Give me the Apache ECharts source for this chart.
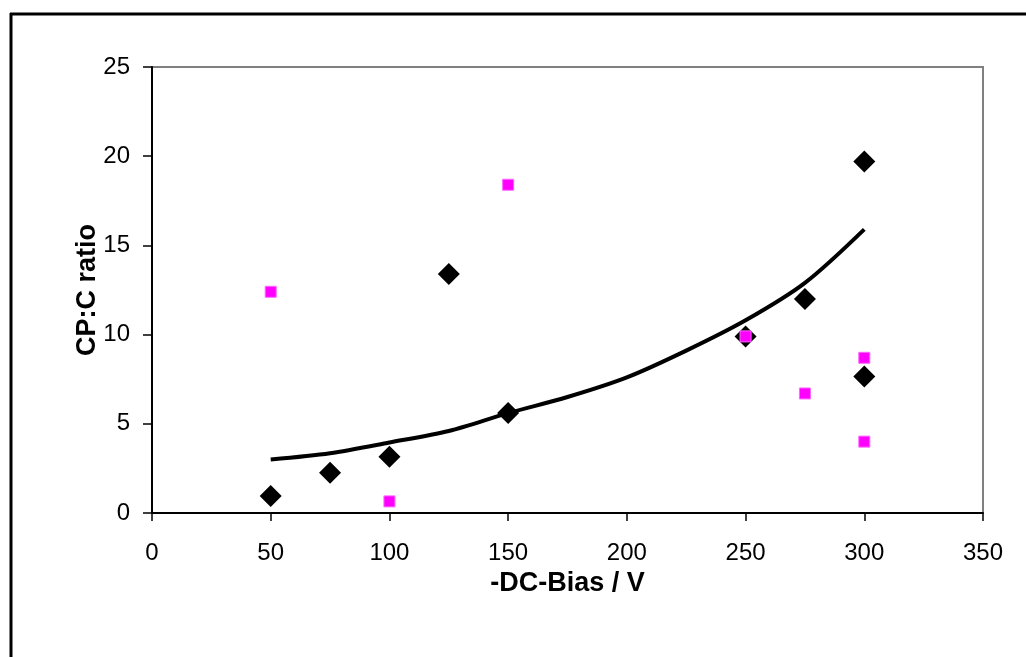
<!DOCTYPE html>
<html>
<head>
<meta charset="utf-8">
<script src="https://cdn.jsdelivr.net/npm/echarts@6/dist/echarts.min.js"></script>
<style>
html,body{margin:0;padding:0;background:#fff;}
#chart{width:1026px;height:657px;}
</style>
</head>
<body>
<div id="chart"></div>
<script>
// Black diamonds: [-DC-Bias, CP:C ratio]
var diamondX = [50, 75, 100, 125, 150, 250, 275, 300, 300];
var diamondY = [0.95, 2.25, 3.15, 13.4, 5.6, 9.9, 12.0, 19.7, 7.65];
// Magenta squares
var squareX = [50, 100, 150, 250, 275, 300, 300];
var squareY = [12.4, 0.65, 18.4, 9.9, 6.7, 8.7, 4.0];
// Trend line
var trendX = [50, 75, 100, 125, 150, 175, 200, 225, 250, 275, 300];
var trendY = [3.0, 3.35, 3.95, 4.6, 5.6, 6.5, 7.6, 9.1, 10.8, 12.9, 15.9];
var xTicks = [0, 50, 100, 150, 200, 250, 300, 350];
var yTicks = [0, 5, 10, 15, 20, 25];

function pairs(xs, ys){ return xs.map(function(x,i){ return [x, ys[i]]; }); }

var chart = echarts.init(document.getElementById('chart'), null, {renderer:'canvas'});
var font = "'Liberation Sans', Arial, sans-serif";
chart.setOption({
  animation:false,
  backgroundColor:'#ffffff',
  grid:{left:152, right:43, top:67, bottom:144, show:true, borderColor:'#808080', borderWidth:2, backgroundColor:'transparent'},
  xAxis:{
    type:'value', min:xTicks[0], max:xTicks[xTicks.length-1], interval:50,
    name:'-DC-Bias / V', nameLocation:'middle', nameGap:54,
    nameTextStyle:{fontFamily:font, fontSize:27, fontWeight:'bold', color:'#000'},
    axisLine:{show:true, onZero:false, lineStyle:{color:'#000', width:2}},
    axisTick:{show:true, length:8, inside:false, lineStyle:{color:'#000', width:1.5}},
    axisLabel:{fontFamily:font, fontSize:24, color:'#000', margin:28},
    splitLine:{show:false}
  },
  yAxis:{
    type:'value', min:yTicks[0], max:yTicks[yTicks.length-1], interval:5,
    name:'CP:C ratio', nameLocation:'middle', nameGap:51, nameRotate:90, nameMoveOverlap:false,
    nameTextStyle:{fontFamily:font, fontSize:27, fontWeight:'bold', color:'#000'},
    axisLine:{show:true, onZero:false, lineStyle:{color:'#000', width:2}},
    axisTick:{show:true, length:9, inside:false, lineStyle:{color:'#000', width:1.5}},
    axisLabel:{fontFamily:font, fontSize:24, color:'#000', margin:22},
    splitLine:{show:false}
  },
  series:[
    {type:'line', data:pairs(trendX, trendY), smooth:0.3, symbol:'none',
     lineStyle:{color:'#000', width:4}, z:2},
    {type:'scatter', data:pairs(diamondX, diamondY), symbol:'diamond', symbolSize:[22,22],
     itemStyle:{color:'#000', opacity:1}, z:3},
    {type:'scatter', data:pairs(squareX, squareY), symbol:'rect', symbolSize:[11,11],
     itemStyle:{color:'#ff00ff', borderColor:'#ff66ff', borderWidth:1, opacity:1}, z:4}
  ],
  graphic:[
    {type:'line', shape:{x1:10, y1:14, x2:1026, y2:14}, style:{stroke:'#000', lineWidth:3}},
    {type:'line', shape:{x1:11, y1:13, x2:11, y2:657}, style:{stroke:'#000', lineWidth:3}}
  ]
});
</script>
</body>
</html>
